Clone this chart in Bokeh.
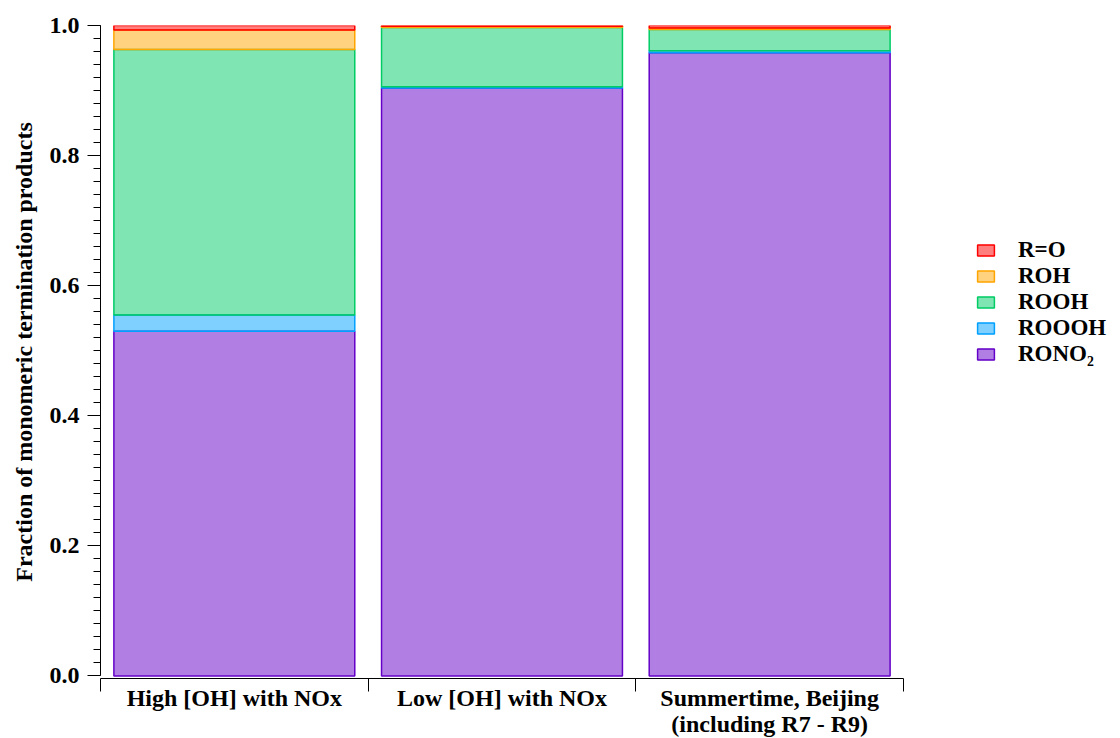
from bokeh.plotting import figure
from bokeh.models import (ColumnDataSource, FixedTicker, LinearAxis, Legend,
                          LegendItem, Range1d)
from bokeh.embed import file_html
from bokeh.resources import INLINE

# Fraction of each monomeric termination product per scenario
scenarios = ["High [OH] with NOx", "Low [OH] with NOx",
             "Summertime, Beijing\n(including R7 - R9)"]
products = ["RONO2", "ROOOH", "ROOH", "ROH", "R=O"]
legend_labels = {"RONO2": "RONO\u2082", "ROOOH": "ROOOH", "ROOH": "ROOH",
                 "ROH": "ROH", "R=O": "R=O"}
rono2 = [0.530, 0.904, 0.958]
rooooh = [0.025, 0.002, 0.003]
rooh = [0.408, 0.091, 0.033]
roh = [0.030, 0.002, 0.002]
r_o = [0.007, 0.001, 0.004]

colors = {"RONO2": "#6400c8", "ROOOH": "#00a0ff", "ROOH": "#00cc66",
          "ROH": "#ffa500", "R=O": "#ff0000"}

FONT = "Liberation Serif"
n = len(scenarios)

x_pos = [i + 0.5 for i in range(n)]
source = ColumnDataSource(dict(x=x_pos, RONO2=rono2, ROOOH=rooooh,
                               ROOH=rooh, ROH=roh, **{"R=O": r_o}))

# the frame runs on past the last bar to leave room for the legend;
# the x axis itself is bounded to the bars
p = figure(width=1120, height=739, output_backend="svg", toolbar_location=None,
           x_range=Range1d(0, n * 1.2578), y_range=Range1d(-0.004, 1.0),
           min_border_left=100, min_border_top=25, min_border_bottom=0,
           min_border_right=10, x_axis_location=None, y_axis_location=None)
p.grid.visible = False
p.outline_line_color = None
p.background_fill_color = "white"

renderers = p.vbar_stack(products, x="x", width=0.9, source=source,
                         fill_color=[colors[k] for k in products],
                         fill_alpha=0.5,
                         line_color=[colors[k] for k in products],
                         line_width=1.5)

# y axis
yaxis = LinearAxis(ticker=FixedTicker(ticks=[0, 0.2, 0.4, 0.6, 0.8, 1.0],
                                      minor_ticks=[i / 50 for i in range(51)]),
                   bounds=(0, 1.0),
                   major_label_overrides={0: "0.0", 0.2: "0.2", 0.4: "0.4",
                                          0.6: "0.6", 0.8: "0.8", 1.0: "1.0"},
                   axis_label="Fraction of monomeric termination products")
yaxis.major_tick_in = 0
yaxis.major_tick_out = 13
yaxis.minor_tick_in = 0
yaxis.minor_tick_out = 7
yaxis.major_label_standoff = 8
yaxis.axis_line_color = "black"
yaxis.major_tick_line_color = "black"
yaxis.minor_tick_line_color = "black"
yaxis.major_label_text_color = "black"
yaxis.major_label_text_font = FONT
yaxis.major_label_text_font_style = "bold"
yaxis.major_label_text_font_size = "24px"
yaxis.axis_label_text_color = "black"
yaxis.axis_label_text_font = FONT
yaxis.axis_label_text_font_style = "bold"
yaxis.axis_label_text_font_size = "24px"
yaxis.axis_label_standoff = 10
p.add_layout(yaxis, "left")

# x axis: ticks on the boundaries between scenarios
xaxis = LinearAxis(ticker=FixedTicker(ticks=list(range(n + 1))), bounds=(0, n),
                   major_label_overrides={i: "" for i in range(n + 1)})
xaxis.major_tick_in = 0
xaxis.major_tick_out = 13
xaxis.minor_tick_line_color = None
xaxis.axis_line_color = "black"
xaxis.major_tick_line_color = "black"
xaxis.major_label_text_font_size = "1px"
xaxis.major_label_standoff = 0
p.add_layout(xaxis, "below")

# x axis: scenario names centred under each bar
xlab = LinearAxis(ticker=FixedTicker(ticks=x_pos), bounds=(0, n),
                  major_label_overrides={x: s for x, s in zip(x_pos, scenarios)})
xlab.axis_line_color = None
xlab.major_tick_line_color = None
xlab.minor_tick_line_color = None
xlab.major_tick_out = 0
xlab.major_tick_in = 0
xlab.major_label_standoff = -7
xlab.major_label_text_color = "black"
xlab.major_label_text_font = FONT
xlab.major_label_text_font_style = "bold"
xlab.major_label_text_font_size = "24px"
xlab.major_label_text_line_height = 1.0
p.add_layout(xlab, "below")

items = [LegendItem(label=legend_labels[k], renderers=[r])
         for k, r in reversed(list(zip(products, renderers)))]
legend = Legend(items=items, location=(875, 311))
legend.border_line_color = None
legend.background_fill_alpha = 0
legend.label_text_color = "black"
legend.label_text_font = FONT
legend.label_text_font_style = "bold"
legend.label_text_font_size = "23px"
legend.glyph_width = 21
legend.glyph_height = 14
legend.label_height = 20
legend.spacing = 0
legend.label_standoff = 22
p.add_layout(legend, "center")

open("out.html", "w").write(file_html(p, INLINE))
